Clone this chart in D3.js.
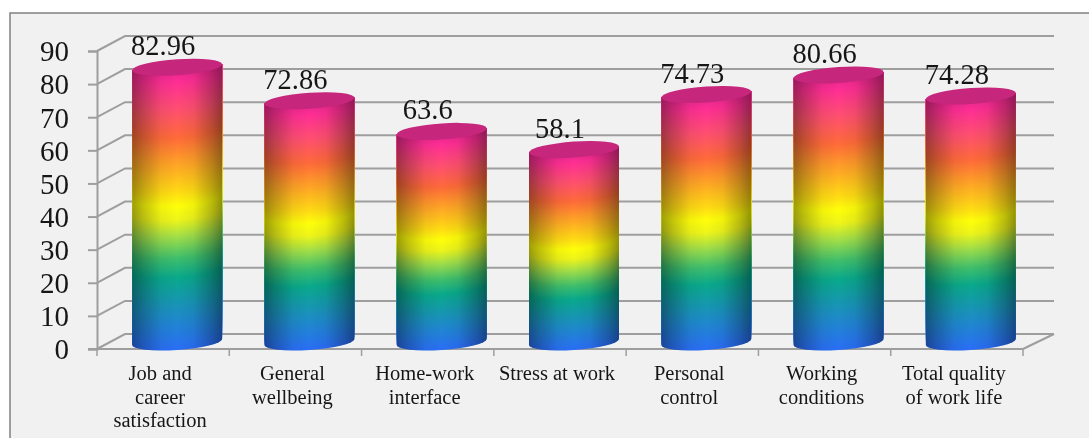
<!DOCTYPE html>
<html>
<head>
<meta charset="utf-8">
<script src="https://cdn.jsdelivr.net/npm/d3@7"></script>
<style>
  html, body { margin: 0; padding: 0; background: #fff; overflow: hidden; }
  svg { display: block; filter: blur(0.5px); }
  text { font-family: "Liberation Serif", serif; fill: #161616; }
</style>
</head>
<body>
<div id="chart-area"></div>
<script>
var categories = ["Job and career satisfaction", "General wellbeing", "Home-work interface",
    "Stress at work", "Personal control", "Working conditions", "Total quality of work life"];
var categoryLines = [["Job and", "career", "satisfaction"], ["General", "wellbeing"], ["Home-work", "interface"],
    ["Stress at work"], ["Personal", "control"], ["Working", "conditions"], ["Total quality", "of work life"]];
var values = [82.96, 72.86, 63.6, 58.1, 74.73, 80.66, 74.28];
var valueLabels = ["82.96", "72.86", "63.6", "58.1", "74.73", "80.66", "74.28"];
var yTicks = [0, 10, 20, 30, 40, 50, 60, 70, 80, 90];
var rampStops = [0, 0.12, 0.26, 0.33, 0.41, 0.47, 0.52, 0.57, 0.69, 0.77, 0.87, 0.97, 1];
var rampColors = ["#2a6ff5", "#1e8cc8", "#0aa98c", "#3fbf6c", "#a4e048", "#eef51a", "#ffff0a", "#ffdc14", "#ff9a2a", "#ff6a3a", "#ff5070", "#ff2f94", "#f02a90"];

var W = 1089, H = 438;
var depth = { x: 28, y: 15 };
var plot = { left: 97, right: 1023, top: 51, bottom: 349 };

var svg = d3.select("#chart-area").append("svg")
    .attr("width", W)
    .attr("height", H);

svg.append("rect").attr("width", W).attr("height", H).attr("fill", "#fff");
svg.append("rect")
    .attr("x", 10).attr("y", 13)
    .attr("width", W + 20).attr("height", H + 20)
    .attr("fill", "#f1f1f1")
    .attr("stroke", "#808080")
    .attr("stroke-width", 1.5);

var x = d3.scaleBand().domain(categories).range([plot.left, plot.right]);
var y = d3.scaleLinear().domain([0, 90]).range([plot.bottom, plot.top]);
var ramp = d3.scaleLinear().domain(rampStops).range(rampColors).interpolate(d3.interpolateRgb);

// edge shading of the cylinders
var defs = svg.append("defs");
var shade = defs.append("linearGradient").attr("id", "shade");
[[0, 0.38], [0.12, 0.24], [0.32, 0.05], [0.5, 0], [0.68, 0.05], [0.88, 0.26], [1, 0.42]].forEach(function(s) {
    shade.append("stop").attr("offset", s[0]).attr("stop-color", "#000").attr("stop-opacity", s[1]);
});

// Walls
var grid = svg.append("g")
    .attr("fill", "none")
    .attr("stroke", "#9e9e9e")
    .attr("stroke-width", 2);

grid.selectAll(".wall").data(yTicks).enter().append("path")
    .attr("class", "wall")
    .attr("d", function(d) {
        return "M" + plot.left + "," + y(d) + "L" + (plot.left + depth.x) + "," + (y(d) - depth.y) +
            "H" + (plot.right + 31);
    });

grid.append("path")
    .attr("d", "M" + plot.right + "," + plot.bottom + "L" + (plot.right + 31) + "," + (plot.bottom - depth.y));

// Y Axis
var yAxisCall = d3.axisLeft(y).tickValues(yTicks).tickSize(9).tickPadding(19);
var yAxisGroup = svg.append("g")
    .attr("transform", "translate(" + plot.left + ",0)")
    .call(yAxisCall);
yAxisGroup.select(".domain").attr("stroke", "#9e9e9e").attr("stroke-width", 2);
yAxisGroup.selectAll("line").attr("stroke", "#9e9e9e").attr("stroke-width", 2);
yAxisGroup.selectAll("text")
    .attr("font-size", "29px")
    .attr("font-family", null)
    .attr("dy", "0.34em");

// X Axis
svg.append("g").selectAll("line")
    .data(categories.concat(["end"])).enter().append("line")
    .attr("x1", function(d) { return d === "end" ? plot.right : x(d); })
    .attr("x2", function(d) { return d === "end" ? plot.right : x(d); })
    .attr("y1", plot.bottom)
    .attr("y2", plot.bottom + 7)
    .attr("stroke", "#9e9e9e")
    .attr("stroke-width", 1.5);
svg.append("line")
    .attr("x1", plot.left - 9).attr("x2", plot.right)
    .attr("y1", plot.bottom).attr("y2", plot.bottom)
    .attr("stroke", "#9e9e9e")
    .attr("stroke-width", 2);

var rx = 45, ry = 8, tilt = -3.8;
var barOffset = { x: 14, y: -7 };

// Cylinders
var bars = svg.selectAll(".bar")
    .data(categories)
    .enter().append("g")
    .attr("class", "bar")
    .attr("transform", function(d) {
        return "translate(" + (x(d) + x.bandwidth() / 2 + barOffset.x) + "," + barOffset.y + ") skewY(" + tilt + ")";
    });

bars.each(function(d, i) {
    var g = d3.select(this);
    var base = y(0), top = y(values[i]);
    var levels = d3.range(0, 1.0001, 1 / 120);

    levels.forEach(function(t) {
        var level = base + (top - base) * t;
        g.append("path")
            .attr("fill", ramp(t))
            .attr("d", "M" + (-rx) + "," + top + "V" + level +
                "A" + rx + "," + ry + " 0 0 0 " + rx + "," + level + "V" + top + "Z");
    });

    g.append("path")
        .attr("fill", "url(#shade)")
        .attr("d", "M" + (-rx) + "," + top + "V" + base +
            "A" + rx + "," + ry + " 0 0 0 " + rx + "," + base + "V" + top + "Z");

    g.append("ellipse")
        .attr("cx", 0)
        .attr("cy", top)
        .attr("rx", rx)
        .attr("ry", ry)
        .attr("fill", "#c6267c");
});

// Data labels
svg.selectAll(".value")
    .data(categories)
    .enter().append("text")
    .attr("class", "value")
    .attr("x", function(d) { return x(d) + x.bandwidth() / 2; })
    .attr("y", function(d, i) { return y(values[i]) - 19; })
    .attr("text-anchor", "middle")
    .attr("font-size", "28.5px")
    .text(function(d, i) { return valueLabels[i]; });

// Category labels
var catLabels = svg.selectAll(".cat")
    .data(categories)
    .enter().append("text")
    .attr("class", "cat")
    .attr("text-anchor", "middle")
    .attr("font-size", "20.5px");

catLabels.each(function(d, i) {
    d3.select(this).selectAll("tspan")
        .data(categoryLines[i])
        .enter().append("tspan")
        .attr("x", x(d) + x.bandwidth() / 2 - 3)
        .attr("y", function(l, j) { return 380 + j * 23.6; })
        .text(function(l) { return l; });
});
</script>
</body>
</html>
